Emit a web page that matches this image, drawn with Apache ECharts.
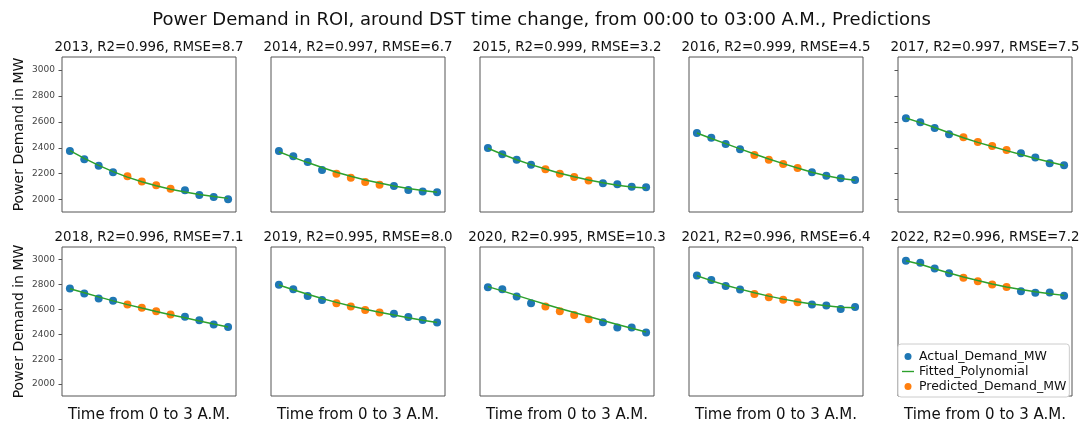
<!DOCTYPE html>
<html>
<head>
<meta charset="utf-8">
<script src="https://cdn.jsdelivr.net/npm/echarts@6/dist/echarts.min.js"></script>
<style>
  html, body { margin: 0; padding: 0; background: #fff; }
  #main { width: 1083px; height: 424px; }
</style>
</head>
<body>
<div id="main"></div>
<script>
// years shown, one panel each
const years = [2013, 2014, 2015, 2016, 2017, 2018, 2019, 2020, 2021, 2022];
const r2 = ['0.996', '0.997', '0.999', '0.999', '0.997', '0.996', '0.995', '0.995', '0.996', '0.996'];
const rmse = ['8.7', '6.7', '3.2', '4.5', '7.5', '7.1', '8.0', '10.3', '6.4', '7.2'];

// 12 samples per year (every 15 min), indices 4..7 are the predicted ones
const predictedIdx = [4, 5, 6, 7];

const demand = [
  [2375, 2311, 2262, 2211, 2180, 2141, 2111, 2085, 2072, 2036, 2021, 2003],
  [2375, 2334, 2290, 2229, 2200, 2170, 2136, 2116, 2105, 2075, 2064, 2057],
  [2398, 2350, 2308, 2270, 2234, 2200, 2175, 2147, 2126, 2118, 2100, 2095],
  [2514, 2478, 2429, 2388, 2344, 2308, 2275, 2244, 2211, 2185, 2165, 2152],
  [2627, 2596, 2553, 2504, 2481, 2445, 2414, 2383, 2357, 2326, 2280, 2265],
  [2767, 2728, 2687, 2669, 2638, 2613, 2585, 2559, 2541, 2513, 2479, 2459],
  [2797, 2762, 2708, 2674, 2649, 2623, 2595, 2574, 2564, 2538, 2515, 2495],
  [2777, 2762, 2703, 2649, 2623, 2585, 2554, 2521, 2497, 2454, 2454, 2415],
  [2872, 2836, 2787, 2759, 2723, 2697, 2677, 2656, 2638, 2631, 2603, 2618],
  [2990, 2974, 2928, 2890, 2854, 2826, 2800, 2779, 2746, 2733, 2736, 2710]
];

const fitted = [
  [2378, 2318, 2264, 2216, 2174, 2138, 2107, 2081, 2059, 2040, 2024, 2010],
  [2370, 2326, 2286, 2248, 2212, 2180, 2152, 2128, 2106, 2086, 2070, 2058],
  [2396, 2350, 2308, 2270, 2236, 2204, 2176, 2151, 2130, 2112, 2098, 2090],
  [2514, 2472, 2432, 2392, 2352, 2314, 2278, 2244, 2212, 2185, 2164, 2150],
  [2630, 2594, 2556, 2516, 2478, 2442, 2410, 2378, 2348, 2318, 2290, 2264],
  [2765, 2733, 2700, 2668, 2638, 2610, 2583, 2557, 2532, 2507, 2482, 2458],
  [2795, 2757, 2721, 2687, 2656, 2627, 2600, 2576, 2554, 2533, 2513, 2495],
  [2782, 2748, 2712, 2676, 2641, 2607, 2574, 2542, 2510, 2479, 2448, 2418],
  [2870, 2830, 2794, 2762, 2733, 2706, 2682, 2661, 2643, 2628, 2617, 2612],
  [2990, 2962, 2926, 2892, 2860, 2831, 2804, 2780, 2760, 2742, 2726, 2712]
];

const yTicks = [2000, 2200, 2400, 2600, 2800, 3000];

const FONT = 'DejaVu Sans';
const colLeft = [62, 271, 480, 689, 898];
const rowTop = [57, 247];
const boxW = 174, boxH = 155;

const grids = [], xAxes = [], yAxes = [], series = [], graphics = [];

years.forEach(function (year, i) {
  const row = Math.floor(i / 5), col = i % 5;
  grids.push({
    left: colLeft[col], top: rowTop[row], width: boxW, height: boxH,
    show: true, borderColor: '#555', borderWidth: 1, backgroundColor: 'transparent'
  });
  xAxes.push({
    gridIndex: i, type: 'value', min: -0.55, max: 11.55,
    axisLine: { show: false, onZero: false }, axisTick: { show: false }, axisLabel: { show: false },
    splitLine: { show: false },
    name: row === 1 ? 'Time from 0 to 3 A.M.' : '',
    nameLocation: 'middle', nameGap: 12,
    nameTextStyle: { fontFamily: FONT, fontSize: 15, color: '#111' }
  });
  yAxes.push({
    gridIndex: i, type: 'value', min: 1905, max: 3100, position: 'left',
    axisLine: { show: false, onZero: false },
    axisTick: {
      show: col === 0 || (col === 4 && row === 0), inside: false, length: 3.5,
      lineStyle: { color: '#555' }, customValues: yTicks
    },
    axisLabel: {
      show: col === 0, fontFamily: FONT, fontSize: 9, color: '#444', margin: 7,
      customValues: yTicks, formatter: function (v) { return String(v); }
    },
    splitLine: { show: false },
    name: col === 0 ? 'Power Demand in MW' : '',
    nameLocation: 'middle', nameGap: 36,
    nameTextStyle: { fontFamily: FONT, fontSize: 14, color: '#111' }
  });

  graphics.push({
    type: 'text', x: colLeft[col] + boxW / 2, y: rowTop[row] - 9,
    style: {
      text: year + ', R2=' + r2[i] + ', RMSE=' + rmse[i],
      font: '13.4px "' + FONT + '"', fill: '#111', align: 'center', verticalAlign: 'middle'
    }
  });

  const actualPts = [], predPts = [];
  demand[i].forEach(function (v, k) {
    if (predictedIdx.indexOf(k) >= 0) predPts.push([k, v]);
    else actualPts.push([k, v]);
  });

  series.push({
    name: 'Actual_Demand_MW', type: 'scatter', xAxisIndex: i, yAxisIndex: i,
    data: actualPts, symbolSize: 8, itemStyle: { color: '#1f77b4', opacity: 1 }, z: 2
  });
  series.push({
    name: 'Fitted_Polynomial', type: 'line', xAxisIndex: i, yAxisIndex: i,
    data: fitted[i].map(function (v, k) { return [k, v]; }),
    showSymbol: false, symbol: 'none', lineStyle: { color: '#2ca02c', width: 1.5 },
    itemStyle: { color: '#2ca02c' }, z: 4
  });
  series.push({
    name: 'Predicted_Demand_MW', type: 'scatter', xAxisIndex: i, yAxisIndex: i,
    data: predPts, symbolSize: 8, itemStyle: { color: '#ff7f0e', opacity: 1 }, z: 3
  });
});

const option = {
  animation: false,
  backgroundColor: '#fff',
  title: {
    text: 'Power Demand in ROI, around DST time change, from 00:00 to 03:00 A.M., Predictions',
    left: 'center', top: 6,
    textStyle: { fontFamily: FONT, fontSize: 18, fontWeight: 'normal', color: '#111' }
  },
  legend: {
    left: 898, top: 344, orient: 'vertical',
    data: [
      { name: 'Actual_Demand_MW', icon: 'circle' },
      { name: 'Fitted_Polynomial', icon: 'path://M0,0 L14,0 L14,1.6 L0,1.6 Z' },
      { name: 'Predicted_Demand_MW', icon: 'circle' }
    ],
    itemWidth: 12, itemHeight: 7, itemGap: 2,
    padding: [6, 3, 4, 4],
    borderColor: '#ccc', borderWidth: 1, borderRadius: 3, backgroundColor: '#fff',
    textStyle: { fontFamily: FONT, fontSize: 12.5, color: '#111' }
  },
  grid: grids,
  xAxis: xAxes,
  yAxis: yAxes,
  series: series,
  graphic: graphics
};

const myChart = echarts.init(document.getElementById('main'));
myChart.setOption(option);
</script>
</body>
</html>
